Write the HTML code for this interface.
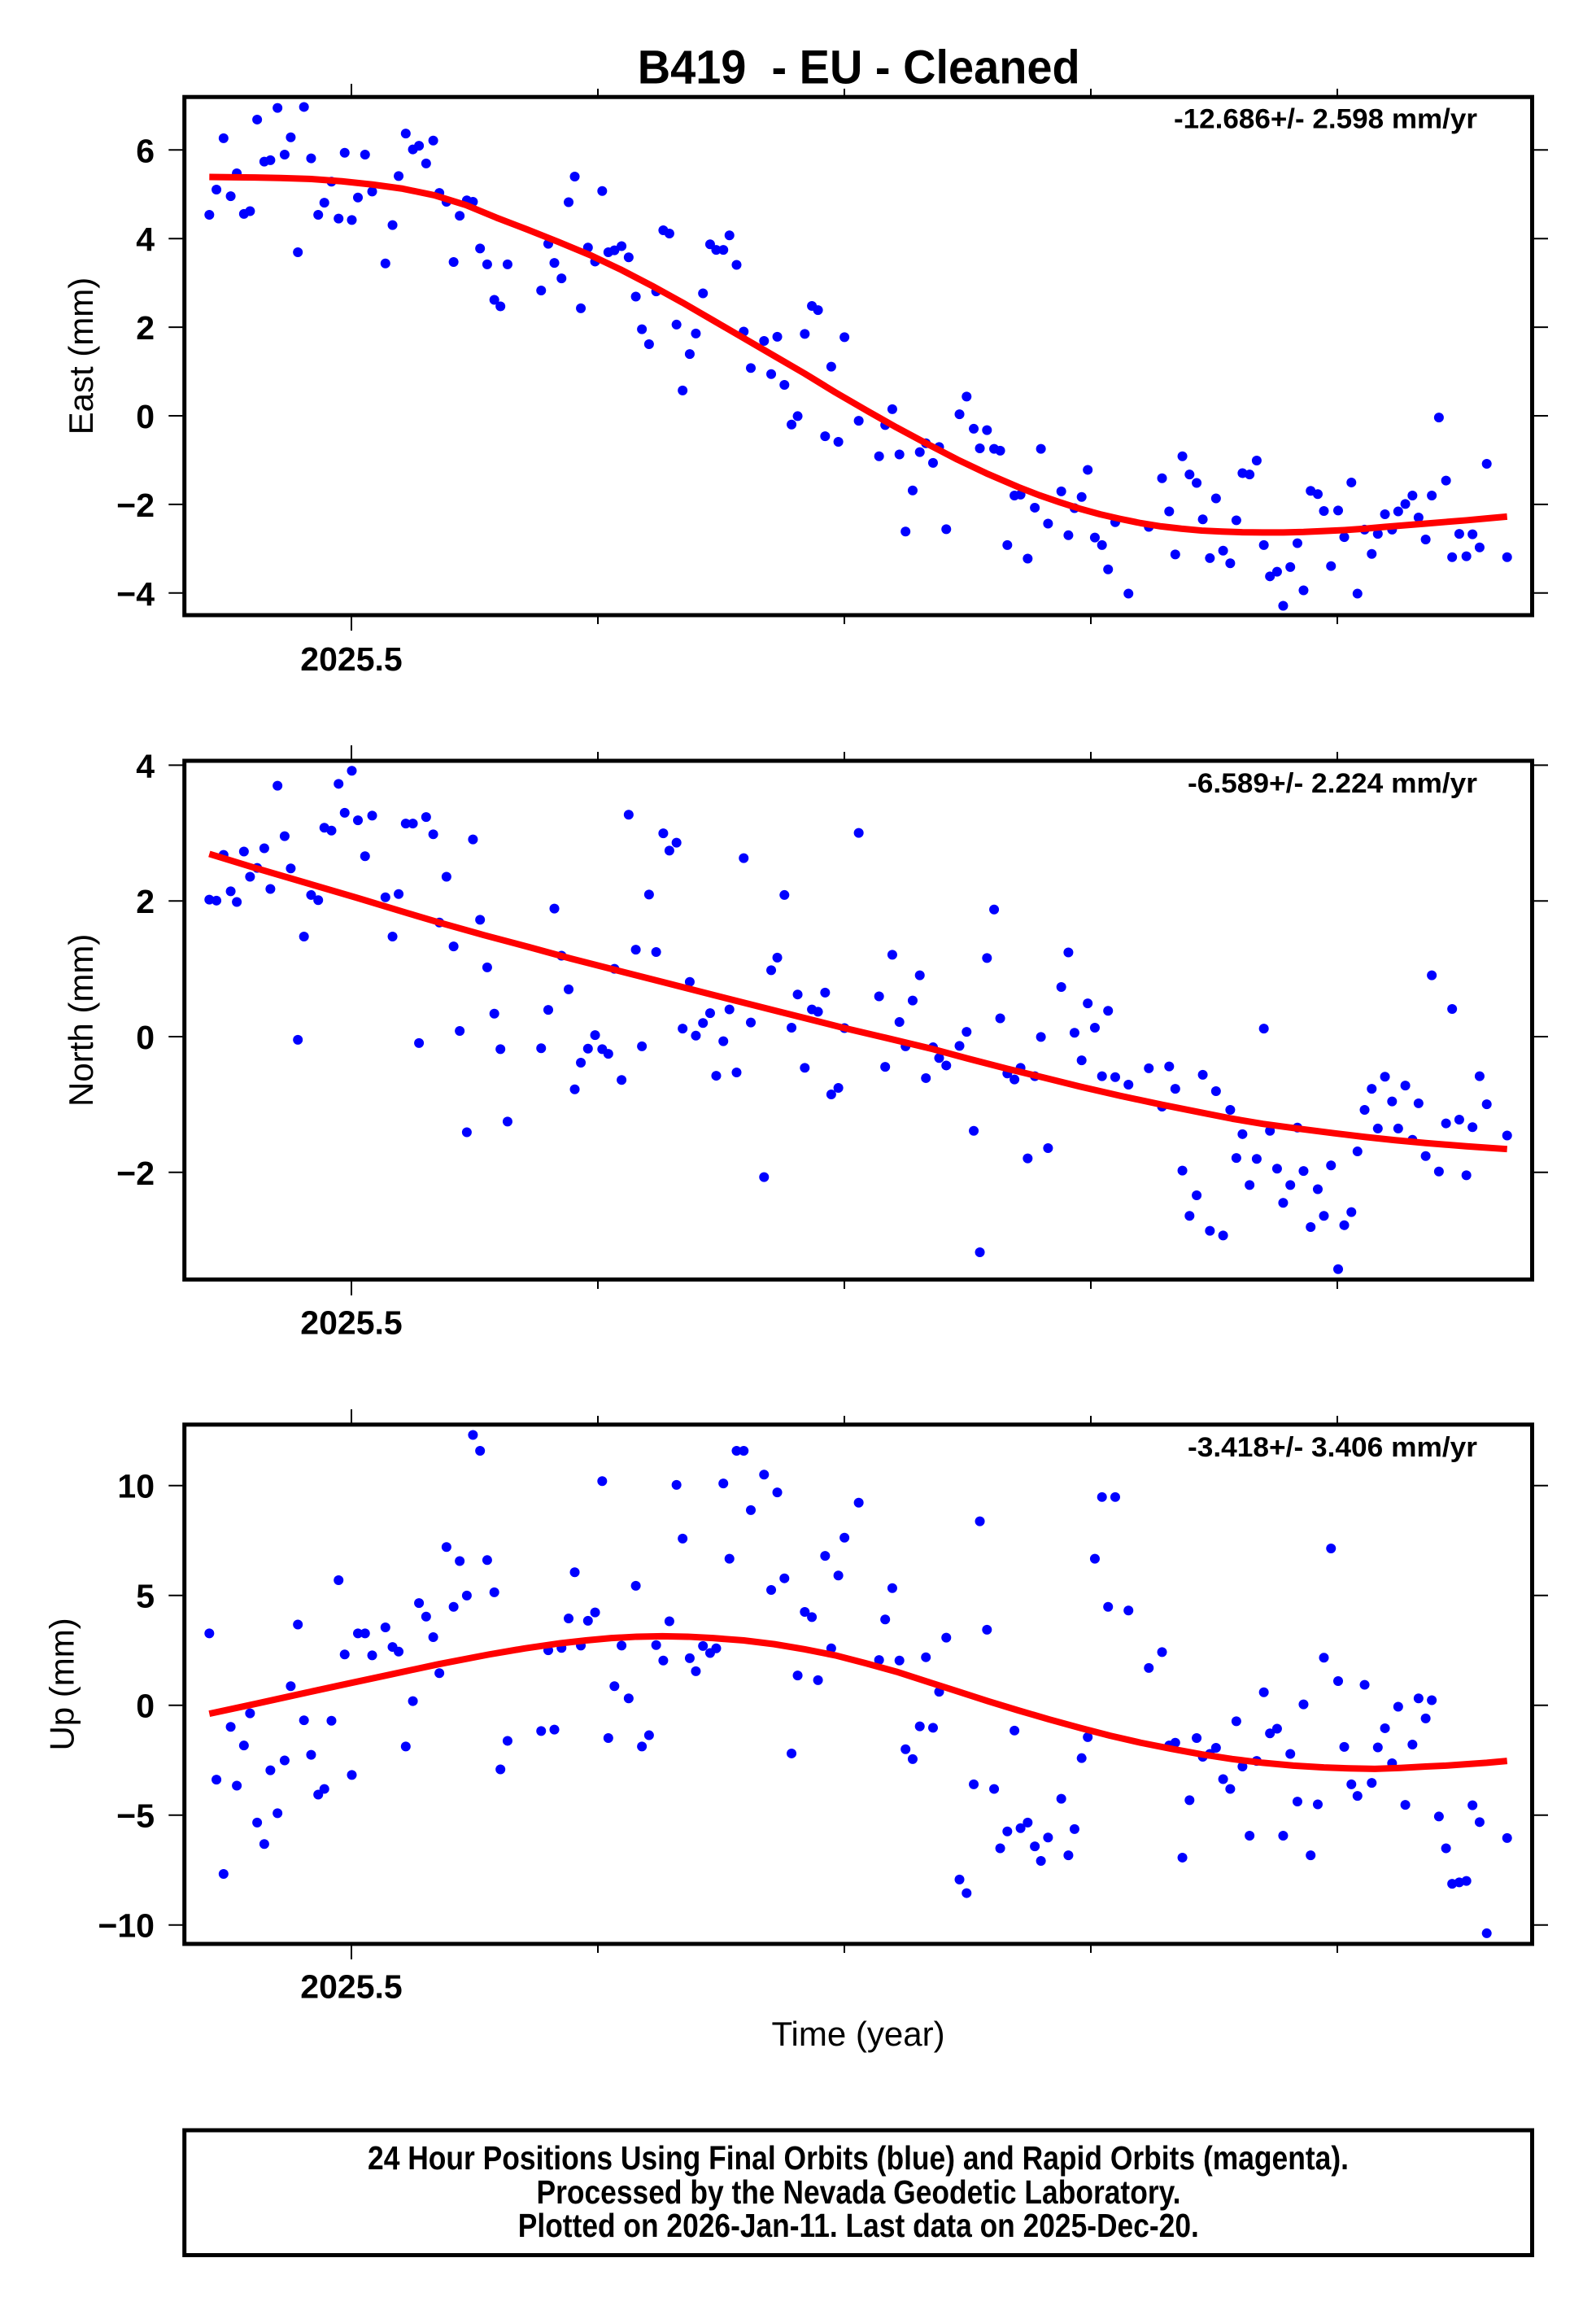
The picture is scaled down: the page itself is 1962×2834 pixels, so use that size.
<!DOCTYPE html>
<html>
<head>
<meta charset="utf-8">
<style>
html,body{margin:0;padding:0;background:#fff;}
svg{display:block;}
</style>
</head>
<body>
<svg width="1962" height="2834" viewBox="0 0 1962 2834" xmlns="http://www.w3.org/2000/svg" font-family="'Liberation Sans', Arial, sans-serif">
<rect width="1962" height="2834" fill="#fff"/>

<!-- Title -->
<text x="1055.7" y="102.3" text-anchor="middle" font-size="58" font-weight="bold" textLength="544" lengthAdjust="spacingAndGlyphs">B419&#160; - EU - Cleaned</text>

<!-- ===== Panel 1: East ===== -->
<g id="p1data" transform="translate(0.8,0) scale(1.2513,0.574)" fill="#0000ff">
<ellipse cx="205" cy="460" rx="4.8" ry="10.45"/><ellipse cx="212" cy="406" rx="4.8" ry="10.45"/><ellipse cx="219" cy="296" rx="4.8" ry="10.45"/><ellipse cx="226" cy="420" rx="4.8" ry="10.45"/><ellipse cx="232" cy="371" rx="4.8" ry="10.45"/><ellipse cx="239" cy="458" rx="4.8" ry="10.45"/><ellipse cx="245" cy="452" rx="4.8" ry="10.45"/><ellipse cx="252" cy="256" rx="4.8" ry="10.45"/><ellipse cx="259" cy="346" rx="4.8" ry="10.45"/><ellipse cx="265" cy="343" rx="4.8" ry="10.45"/>
<ellipse cx="272" cy="231" rx="4.8" ry="10.45"/><ellipse cx="279" cy="331" rx="4.8" ry="10.45"/><ellipse cx="285" cy="294" rx="4.8" ry="10.45"/><ellipse cx="292" cy="540" rx="4.8" ry="10.45"/><ellipse cx="298" cy="229" rx="4.8" ry="10.45"/><ellipse cx="305" cy="339" rx="4.8" ry="10.45"/><ellipse cx="312" cy="460" rx="4.8" ry="10.45"/><ellipse cx="318" cy="434" rx="4.8" ry="10.45"/><ellipse cx="325" cy="389" rx="4.8" ry="10.45"/><ellipse cx="332" cy="468" rx="4.8" ry="10.45"/>
<ellipse cx="338" cy="327" rx="4.8" ry="10.45"/><ellipse cx="345" cy="471" rx="4.8" ry="10.45"/><ellipse cx="351" cy="423" rx="4.8" ry="10.45"/><ellipse cx="358" cy="331" rx="4.8" ry="10.45"/><ellipse cx="365" cy="410" rx="4.8" ry="10.45"/><ellipse cx="378" cy="564" rx="4.8" ry="10.45"/><ellipse cx="385" cy="482" rx="4.8" ry="10.45"/><ellipse cx="391" cy="377" rx="4.8" ry="10.45"/><ellipse cx="398" cy="286" rx="4.8" ry="10.45"/><ellipse cx="405" cy="320" rx="4.8" ry="10.45"/>
<ellipse cx="411" cy="312" rx="4.8" ry="10.45"/><ellipse cx="418" cy="350" rx="4.8" ry="10.45"/><ellipse cx="425" cy="301" rx="4.8" ry="10.45"/><ellipse cx="431" cy="413" rx="4.8" ry="10.45"/><ellipse cx="438" cy="432" rx="4.8" ry="10.45"/><ellipse cx="445" cy="561" rx="4.8" ry="10.45"/><ellipse cx="451" cy="462" rx="4.8" ry="10.45"/><ellipse cx="458" cy="429" rx="4.8" ry="10.45"/><ellipse cx="464" cy="432" rx="4.8" ry="10.45"/><ellipse cx="471" cy="532" rx="4.8" ry="10.45"/>
<ellipse cx="478" cy="566" rx="4.8" ry="10.45"/><ellipse cx="485" cy="642" rx="4.8" ry="10.45"/><ellipse cx="491" cy="656" rx="4.8" ry="10.45"/><ellipse cx="498" cy="566" rx="4.8" ry="10.45"/><ellipse cx="531" cy="622" rx="4.8" ry="10.45"/><ellipse cx="538" cy="522" rx="4.8" ry="10.45"/><ellipse cx="544" cy="563" rx="4.8" ry="10.45"/><ellipse cx="551" cy="596" rx="4.8" ry="10.45"/><ellipse cx="558" cy="433" rx="4.8" ry="10.45"/><ellipse cx="564" cy="378" rx="4.8" ry="10.45"/>
<ellipse cx="570" cy="660" rx="4.8" ry="10.45"/><ellipse cx="577" cy="530" rx="4.8" ry="10.45"/><ellipse cx="584" cy="560" rx="4.8" ry="10.45"/><ellipse cx="591" cy="409" rx="4.8" ry="10.45"/><ellipse cx="597" cy="540" rx="4.8" ry="10.45"/><ellipse cx="603" cy="536" rx="4.8" ry="10.45"/><ellipse cx="610" cy="527" rx="4.8" ry="10.45"/><ellipse cx="617" cy="551" rx="4.8" ry="10.45"/><ellipse cx="624" cy="635" rx="4.8" ry="10.45"/><ellipse cx="630" cy="705" rx="4.8" ry="10.45"/>
<ellipse cx="637" cy="737" rx="4.8" ry="10.45"/><ellipse cx="644" cy="624" rx="4.8" ry="10.45"/><ellipse cx="651" cy="493" rx="4.8" ry="10.45"/><ellipse cx="657" cy="500" rx="4.8" ry="10.45"/><ellipse cx="664" cy="695" rx="4.8" ry="10.45"/><ellipse cx="670" cy="836" rx="4.8" ry="10.45"/><ellipse cx="677" cy="758" rx="4.8" ry="10.45"/><ellipse cx="683" cy="714" rx="4.8" ry="10.45"/><ellipse cx="690" cy="628" rx="4.8" ry="10.45"/><ellipse cx="697" cy="523" rx="4.8" ry="10.45"/>
<ellipse cx="703" cy="535" rx="4.8" ry="10.45"/><ellipse cx="710" cy="535" rx="4.8" ry="10.45"/><ellipse cx="716" cy="504" rx="4.8" ry="10.45"/><ellipse cx="723" cy="567" rx="4.8" ry="10.45"/><ellipse cx="730" cy="710" rx="4.8" ry="10.45"/><ellipse cx="737" cy="788" rx="4.8" ry="10.45"/><ellipse cx="750" cy="730" rx="4.8" ry="10.45"/><ellipse cx="757" cy="801" rx="4.8" ry="10.45"/><ellipse cx="763" cy="721" rx="4.8" ry="10.45"/><ellipse cx="770" cy="824" rx="4.8" ry="10.45"/>
<ellipse cx="777" cy="909" rx="4.8" ry="10.45"/><ellipse cx="783" cy="891" rx="4.8" ry="10.45"/><ellipse cx="790" cy="715" rx="4.8" ry="10.45"/><ellipse cx="797" cy="655" rx="4.8" ry="10.45"/><ellipse cx="803" cy="664" rx="4.8" ry="10.45"/><ellipse cx="810" cy="934" rx="4.8" ry="10.45"/><ellipse cx="816" cy="785" rx="4.8" ry="10.45"/><ellipse cx="823" cy="946" rx="4.8" ry="10.45"/><ellipse cx="829" cy="722" rx="4.8" ry="10.45"/><ellipse cx="843" cy="901" rx="4.8" ry="10.45"/>
<ellipse cx="863" cy="977" rx="4.8" ry="10.45"/><ellipse cx="869" cy="910" rx="4.8" ry="10.45"/><ellipse cx="876" cy="876" rx="4.8" ry="10.45"/><ellipse cx="883" cy="973" rx="4.8" ry="10.45"/><ellipse cx="889" cy="1138" rx="4.8" ry="10.45"/><ellipse cx="896" cy="1050" rx="4.8" ry="10.45"/><ellipse cx="903" cy="968" rx="4.8" ry="10.45"/><ellipse cx="909" cy="949" rx="4.8" ry="10.45"/><ellipse cx="916" cy="991" rx="4.8" ry="10.45"/><ellipse cx="922" cy="957" rx="4.8" ry="10.45"/>
<ellipse cx="929" cy="1133" rx="4.8" ry="10.45"/><ellipse cx="942" cy="887" rx="4.8" ry="10.45"/><ellipse cx="949" cy="849" rx="4.8" ry="10.45"/><ellipse cx="956" cy="918" rx="4.8" ry="10.45"/><ellipse cx="962" cy="960" rx="4.8" ry="10.45"/><ellipse cx="969" cy="921" rx="4.8" ry="10.45"/><ellipse cx="976" cy="961" rx="4.8" ry="10.45"/><ellipse cx="982" cy="965" rx="4.8" ry="10.45"/><ellipse cx="989" cy="1167" rx="4.8" ry="10.45"/><ellipse cx="996" cy="1061" rx="4.8" ry="10.45"/>
<ellipse cx="1002" cy="1059" rx="4.8" ry="10.45"/><ellipse cx="1009" cy="1196" rx="4.8" ry="10.45"/><ellipse cx="1016" cy="1087" rx="4.8" ry="10.45"/><ellipse cx="1022" cy="961" rx="4.8" ry="10.45"/><ellipse cx="1029" cy="1121" rx="4.8" ry="10.45"/><ellipse cx="1042" cy="1052" rx="4.8" ry="10.45"/><ellipse cx="1049" cy="1146" rx="4.8" ry="10.45"/><ellipse cx="1055" cy="1088" rx="4.8" ry="10.45"/><ellipse cx="1062" cy="1064" rx="4.8" ry="10.45"/><ellipse cx="1068" cy="1006" rx="4.8" ry="10.45"/>
<ellipse cx="1075" cy="1151" rx="4.8" ry="10.45"/><ellipse cx="1082" cy="1167" rx="4.8" ry="10.45"/><ellipse cx="1088" cy="1219" rx="4.8" ry="10.45"/><ellipse cx="1095" cy="1118" rx="4.8" ry="10.45"/><ellipse cx="1108" cy="1271" rx="4.8" ry="10.45"/><ellipse cx="1128" cy="1128" rx="4.8" ry="10.45"/><ellipse cx="1141" cy="1024" rx="4.8" ry="10.45"/><ellipse cx="1148" cy="1095" rx="4.8" ry="10.45"/><ellipse cx="1154" cy="1187" rx="4.8" ry="10.45"/><ellipse cx="1161" cy="977" rx="4.8" ry="10.45"/>
<ellipse cx="1168" cy="1016" rx="4.8" ry="10.45"/><ellipse cx="1175" cy="1034" rx="4.8" ry="10.45"/><ellipse cx="1181" cy="1112" rx="4.8" ry="10.45"/><ellipse cx="1188" cy="1195" rx="4.8" ry="10.45"/><ellipse cx="1194" cy="1067" rx="4.8" ry="10.45"/><ellipse cx="1201" cy="1179" rx="4.8" ry="10.45"/><ellipse cx="1208" cy="1206" rx="4.8" ry="10.45"/><ellipse cx="1214" cy="1114" rx="4.8" ry="10.45"/><ellipse cx="1220" cy="1013" rx="4.8" ry="10.45"/><ellipse cx="1227" cy="1016" rx="4.8" ry="10.45"/>
<ellipse cx="1234" cy="986" rx="4.8" ry="10.45"/><ellipse cx="1241" cy="1167" rx="4.8" ry="10.45"/><ellipse cx="1247" cy="1234" rx="4.8" ry="10.45"/><ellipse cx="1254" cy="1224" rx="4.8" ry="10.45"/><ellipse cx="1260" cy="1297" rx="4.8" ry="10.45"/><ellipse cx="1267" cy="1214" rx="4.8" ry="10.45"/><ellipse cx="1274" cy="1163" rx="4.8" ry="10.45"/><ellipse cx="1280" cy="1264" rx="4.8" ry="10.45"/><ellipse cx="1287" cy="1051" rx="4.8" ry="10.45"/><ellipse cx="1294" cy="1058" rx="4.8" ry="10.45"/>
<ellipse cx="1300" cy="1094" rx="4.8" ry="10.45"/><ellipse cx="1307" cy="1212" rx="4.8" ry="10.45"/><ellipse cx="1314" cy="1093" rx="4.8" ry="10.45"/><ellipse cx="1320" cy="1150" rx="4.8" ry="10.45"/><ellipse cx="1327" cy="1033" rx="4.8" ry="10.45"/><ellipse cx="1333" cy="1271" rx="4.8" ry="10.45"/><ellipse cx="1340" cy="1134" rx="4.8" ry="10.45"/><ellipse cx="1347" cy="1186" rx="4.8" ry="10.45"/><ellipse cx="1353" cy="1143" rx="4.8" ry="10.45"/><ellipse cx="1360" cy="1101" rx="4.8" ry="10.45"/>
<ellipse cx="1367" cy="1134" rx="4.8" ry="10.45"/><ellipse cx="1373" cy="1095" rx="4.8" ry="10.45"/><ellipse cx="1380" cy="1079" rx="4.8" ry="10.45"/><ellipse cx="1387" cy="1061" rx="4.8" ry="10.45"/><ellipse cx="1393" cy="1108" rx="4.8" ry="10.45"/><ellipse cx="1400" cy="1155" rx="4.8" ry="10.45"/><ellipse cx="1406" cy="1061" rx="4.8" ry="10.45"/><ellipse cx="1413" cy="894" rx="4.8" ry="10.45"/><ellipse cx="1420" cy="1029" rx="4.8" ry="10.45"/><ellipse cx="1426" cy="1193" rx="4.8" ry="10.45"/>
<ellipse cx="1433" cy="1143" rx="4.8" ry="10.45"/><ellipse cx="1440" cy="1191" rx="4.8" ry="10.45"/><ellipse cx="1446" cy="1144" rx="4.8" ry="10.45"/><ellipse cx="1453" cy="1172" rx="4.8" ry="10.45"/><ellipse cx="1460" cy="993" rx="4.8" ry="10.45"/><ellipse cx="1480" cy="1193" rx="4.8" ry="10.45"/>
<polyline fill="none" stroke="#ff0000" stroke-width="8" stroke-linejoin="round" vector-effect="non-scaling-stroke" points="205,379 230,379.5 250,380 275,381 303,383 335,388 365,395 395,404 426,418 457,439 487,466 517,491 548,518 579,546 610,578 640,612 670,648 700,686 730,724 760,762 790,800 820,840 850,878 880,915 910,950 940,984 970,1015 1000,1043 1020,1060 1040,1075 1060,1089 1080,1101 1100,1111 1120,1120 1140,1127 1160,1132 1180,1136 1200,1138 1220,1139.5 1240,1140 1260,1140 1280,1139 1300,1137 1320,1135 1340,1132 1360,1128 1380,1124.5 1400,1121 1420,1117.5 1440,1114 1460,1110 1480,1106"/>
</g>

<rect x="226.7" y="119.2" width="1656.8" height="636.8" fill="none" stroke="#000" stroke-width="5"/>
<path stroke="#000" stroke-width="2" fill="none" d="
M207.3,184.3H227 M207.3,293.2H227 M207.3,402.1H227 M207.3,511H227 M207.3,619.9H227 M207.3,728.8H227
M1883,184.3H1903 M1883,293.2H1903 M1883,402.1H1903 M1883,511H1903 M1883,619.9H1903 M1883,728.8H1903
M432,103V120 M735,109V120 M1038,109V120 M1341,109V120 M1644,109V120
M432,755V775 M735,755V767 M1038,755V767 M1341,755V767 M1644,755V767"/>
<g font-size="41" font-weight="bold" text-anchor="end">
<text x="190" y="199.3">6</text>
<text x="190" y="308.2">4</text>
<text x="190" y="417.1">2</text>
<text x="190" y="526">0</text>
<text x="190" y="634.9">−2</text>
<text x="190" y="743.8">−4</text>
</g>
<text x="432" y="824" font-size="41" font-weight="bold" text-anchor="middle">2025.5</text>
<text x="1816" y="157.5" font-size="34" font-weight="bold" text-anchor="end" textLength="373" lengthAdjust="spacingAndGlyphs">-12.686+/- 2.598 mm/yr</text>
<text transform="translate(114,437.6) rotate(-90)" text-anchor="middle" font-size="42">East (mm)</text>

<!-- ===== Panel 2: North ===== -->
<g id="p2data" transform="translate(0.8,860) scale(1.2513,0.574)" fill="#0000ff">
<ellipse cx="205" cy="428" rx="4.8" ry="10.45"/><ellipse cx="212" cy="430" rx="4.8" ry="10.45"/><ellipse cx="219" cy="332" rx="4.8" ry="10.45"/><ellipse cx="226" cy="410" rx="4.8" ry="10.45"/><ellipse cx="232" cy="433" rx="4.8" ry="10.45"/><ellipse cx="239" cy="325" rx="4.8" ry="10.45"/><ellipse cx="245" cy="379" rx="4.8" ry="10.45"/><ellipse cx="252" cy="360" rx="4.8" ry="10.45"/><ellipse cx="259" cy="318" rx="4.8" ry="10.45"/><ellipse cx="265" cy="405" rx="4.8" ry="10.45"/>
<ellipse cx="272" cy="184" rx="4.8" ry="10.45"/><ellipse cx="279" cy="292" rx="4.8" ry="10.45"/><ellipse cx="285" cy="361" rx="4.8" ry="10.45"/><ellipse cx="292" cy="728" rx="4.8" ry="10.45"/><ellipse cx="298" cy="507" rx="4.8" ry="10.45"/><ellipse cx="305" cy="418" rx="4.8" ry="10.45"/><ellipse cx="312" cy="429" rx="4.8" ry="10.45"/><ellipse cx="318" cy="274" rx="4.8" ry="10.45"/><ellipse cx="325" cy="280" rx="4.8" ry="10.45"/><ellipse cx="332" cy="180" rx="4.8" ry="10.45"/>
<ellipse cx="338" cy="242" rx="4.8" ry="10.45"/><ellipse cx="345" cy="152" rx="4.8" ry="10.45"/><ellipse cx="351" cy="258" rx="4.8" ry="10.45"/><ellipse cx="358" cy="335" rx="4.8" ry="10.45"/><ellipse cx="365" cy="248" rx="4.8" ry="10.45"/><ellipse cx="378" cy="423" rx="4.8" ry="10.45"/><ellipse cx="385" cy="507" rx="4.8" ry="10.45"/><ellipse cx="391" cy="416" rx="4.8" ry="10.45"/><ellipse cx="398" cy="265" rx="4.8" ry="10.45"/><ellipse cx="405" cy="265" rx="4.8" ry="10.45"/>
<ellipse cx="411" cy="735" rx="4.8" ry="10.45"/><ellipse cx="418" cy="251" rx="4.8" ry="10.45"/><ellipse cx="425" cy="288" rx="4.8" ry="10.45"/><ellipse cx="431" cy="477" rx="4.8" ry="10.45"/><ellipse cx="438" cy="379" rx="4.8" ry="10.45"/><ellipse cx="445" cy="528" rx="4.8" ry="10.45"/><ellipse cx="451" cy="709" rx="4.8" ry="10.45"/><ellipse cx="458" cy="926" rx="4.8" ry="10.45"/><ellipse cx="464" cy="299" rx="4.8" ry="10.45"/><ellipse cx="471" cy="471" rx="4.8" ry="10.45"/>
<ellipse cx="478" cy="573" rx="4.8" ry="10.45"/><ellipse cx="485" cy="672" rx="4.8" ry="10.45"/><ellipse cx="491" cy="748" rx="4.8" ry="10.45"/><ellipse cx="498" cy="903" rx="4.8" ry="10.45"/><ellipse cx="531" cy="746" rx="4.8" ry="10.45"/><ellipse cx="538" cy="664" rx="4.8" ry="10.45"/><ellipse cx="544" cy="447" rx="4.8" ry="10.45"/><ellipse cx="551" cy="548" rx="4.8" ry="10.45"/><ellipse cx="558" cy="620" rx="4.8" ry="10.45"/><ellipse cx="564" cy="834" rx="4.8" ry="10.45"/>
<ellipse cx="570" cy="777" rx="4.8" ry="10.45"/><ellipse cx="577" cy="747" rx="4.8" ry="10.45"/><ellipse cx="584" cy="718" rx="4.8" ry="10.45"/><ellipse cx="591" cy="748" rx="4.8" ry="10.45"/><ellipse cx="597" cy="758" rx="4.8" ry="10.45"/><ellipse cx="603" cy="576" rx="4.8" ry="10.45"/><ellipse cx="610" cy="814" rx="4.8" ry="10.45"/><ellipse cx="617" cy="246" rx="4.8" ry="10.45"/><ellipse cx="624" cy="535" rx="4.8" ry="10.45"/><ellipse cx="630" cy="742" rx="4.8" ry="10.45"/>
<ellipse cx="637" cy="417" rx="4.8" ry="10.45"/><ellipse cx="644" cy="540" rx="4.8" ry="10.45"/><ellipse cx="651" cy="286" rx="4.8" ry="10.45"/><ellipse cx="657" cy="323" rx="4.8" ry="10.45"/><ellipse cx="664" cy="306" rx="4.8" ry="10.45"/><ellipse cx="670" cy="704" rx="4.8" ry="10.45"/><ellipse cx="677" cy="604" rx="4.8" ry="10.45"/><ellipse cx="683" cy="719" rx="4.8" ry="10.45"/><ellipse cx="690" cy="692" rx="4.8" ry="10.45"/><ellipse cx="697" cy="671" rx="4.8" ry="10.45"/>
<ellipse cx="703" cy="805" rx="4.8" ry="10.45"/><ellipse cx="710" cy="731" rx="4.8" ry="10.45"/><ellipse cx="716" cy="663" rx="4.8" ry="10.45"/><ellipse cx="723" cy="798" rx="4.8" ry="10.45"/><ellipse cx="730" cy="339" rx="4.8" ry="10.45"/><ellipse cx="737" cy="691" rx="4.8" ry="10.45"/><ellipse cx="750" cy="1022" rx="4.8" ry="10.45"/><ellipse cx="757" cy="579" rx="4.8" ry="10.45"/><ellipse cx="763" cy="552" rx="4.8" ry="10.45"/><ellipse cx="770" cy="418" rx="4.8" ry="10.45"/>
<ellipse cx="777" cy="702" rx="4.8" ry="10.45"/><ellipse cx="783" cy="631" rx="4.8" ry="10.45"/><ellipse cx="790" cy="788" rx="4.8" ry="10.45"/><ellipse cx="797" cy="663" rx="4.8" ry="10.45"/><ellipse cx="803" cy="668" rx="4.8" ry="10.45"/><ellipse cx="810" cy="627" rx="4.8" ry="10.45"/><ellipse cx="816" cy="845" rx="4.8" ry="10.45"/><ellipse cx="823" cy="831" rx="4.8" ry="10.45"/><ellipse cx="829" cy="703" rx="4.8" ry="10.45"/><ellipse cx="843" cy="285" rx="4.8" ry="10.45"/>
<ellipse cx="863" cy="635" rx="4.8" ry="10.45"/><ellipse cx="869" cy="786" rx="4.8" ry="10.45"/><ellipse cx="876" cy="546" rx="4.8" ry="10.45"/><ellipse cx="883" cy="690" rx="4.8" ry="10.45"/><ellipse cx="889" cy="742" rx="4.8" ry="10.45"/><ellipse cx="896" cy="644" rx="4.8" ry="10.45"/><ellipse cx="903" cy="590" rx="4.8" ry="10.45"/><ellipse cx="909" cy="810" rx="4.8" ry="10.45"/><ellipse cx="916" cy="744" rx="4.8" ry="10.45"/><ellipse cx="922" cy="767" rx="4.8" ry="10.45"/>
<ellipse cx="929" cy="783" rx="4.8" ry="10.45"/><ellipse cx="942" cy="741" rx="4.8" ry="10.45"/><ellipse cx="949" cy="711" rx="4.8" ry="10.45"/><ellipse cx="956" cy="923" rx="4.8" ry="10.45"/><ellipse cx="962" cy="1183" rx="4.8" ry="10.45"/><ellipse cx="969" cy="553" rx="4.8" ry="10.45"/><ellipse cx="976" cy="449" rx="4.8" ry="10.45"/><ellipse cx="982" cy="682" rx="4.8" ry="10.45"/><ellipse cx="989" cy="800" rx="4.8" ry="10.45"/><ellipse cx="996" cy="813" rx="4.8" ry="10.45"/>
<ellipse cx="1002" cy="788" rx="4.8" ry="10.45"/><ellipse cx="1009" cy="982" rx="4.8" ry="10.45"/><ellipse cx="1016" cy="806" rx="4.8" ry="10.45"/><ellipse cx="1022" cy="722" rx="4.8" ry="10.45"/><ellipse cx="1029" cy="960" rx="4.8" ry="10.45"/><ellipse cx="1042" cy="615" rx="4.8" ry="10.45"/><ellipse cx="1049" cy="541" rx="4.8" ry="10.45"/><ellipse cx="1055" cy="713" rx="4.8" ry="10.45"/><ellipse cx="1062" cy="772" rx="4.8" ry="10.45"/><ellipse cx="1068" cy="650" rx="4.8" ry="10.45"/>
<ellipse cx="1075" cy="702" rx="4.8" ry="10.45"/><ellipse cx="1082" cy="806" rx="4.8" ry="10.45"/><ellipse cx="1088" cy="666" rx="4.8" ry="10.45"/><ellipse cx="1095" cy="808" rx="4.8" ry="10.45"/><ellipse cx="1108" cy="824" rx="4.8" ry="10.45"/><ellipse cx="1128" cy="789" rx="4.8" ry="10.45"/><ellipse cx="1141" cy="871" rx="4.8" ry="10.45"/><ellipse cx="1148" cy="785" rx="4.8" ry="10.45"/><ellipse cx="1154" cy="833" rx="4.8" ry="10.45"/><ellipse cx="1161" cy="1008" rx="4.8" ry="10.45"/>
<ellipse cx="1168" cy="1105" rx="4.8" ry="10.45"/><ellipse cx="1175" cy="1061" rx="4.8" ry="10.45"/><ellipse cx="1181" cy="803" rx="4.8" ry="10.45"/><ellipse cx="1188" cy="1137" rx="4.8" ry="10.45"/><ellipse cx="1194" cy="838" rx="4.8" ry="10.45"/><ellipse cx="1201" cy="1147" rx="4.8" ry="10.45"/><ellipse cx="1208" cy="878" rx="4.8" ry="10.45"/><ellipse cx="1214" cy="981" rx="4.8" ry="10.45"/><ellipse cx="1220" cy="930" rx="4.8" ry="10.45"/><ellipse cx="1227" cy="1039" rx="4.8" ry="10.45"/>
<ellipse cx="1234" cy="983" rx="4.8" ry="10.45"/><ellipse cx="1241" cy="704" rx="4.8" ry="10.45"/><ellipse cx="1247" cy="923" rx="4.8" ry="10.45"/><ellipse cx="1254" cy="1004" rx="4.8" ry="10.45"/><ellipse cx="1260" cy="1077" rx="4.8" ry="10.45"/><ellipse cx="1267" cy="1039" rx="4.8" ry="10.45"/><ellipse cx="1274" cy="916" rx="4.8" ry="10.45"/><ellipse cx="1280" cy="1009" rx="4.8" ry="10.45"/><ellipse cx="1287" cy="1129" rx="4.8" ry="10.45"/><ellipse cx="1294" cy="1048" rx="4.8" ry="10.45"/>
<ellipse cx="1300" cy="1105" rx="4.8" ry="10.45"/><ellipse cx="1307" cy="997" rx="4.8" ry="10.45"/><ellipse cx="1314" cy="1219" rx="4.8" ry="10.45"/><ellipse cx="1320" cy="1125" rx="4.8" ry="10.45"/><ellipse cx="1327" cy="1097" rx="4.8" ry="10.45"/><ellipse cx="1333" cy="967" rx="4.8" ry="10.45"/><ellipse cx="1340" cy="878" rx="4.8" ry="10.45"/><ellipse cx="1347" cy="833" rx="4.8" ry="10.45"/><ellipse cx="1353" cy="918" rx="4.8" ry="10.45"/><ellipse cx="1360" cy="807" rx="4.8" ry="10.45"/>
<ellipse cx="1367" cy="860" rx="4.8" ry="10.45"/><ellipse cx="1373" cy="918" rx="4.8" ry="10.45"/><ellipse cx="1380" cy="826" rx="4.8" ry="10.45"/><ellipse cx="1387" cy="942" rx="4.8" ry="10.45"/><ellipse cx="1393" cy="864" rx="4.8" ry="10.45"/><ellipse cx="1400" cy="977" rx="4.8" ry="10.45"/><ellipse cx="1406" cy="590" rx="4.8" ry="10.45"/><ellipse cx="1413" cy="1010" rx="4.8" ry="10.45"/><ellipse cx="1420" cy="907" rx="4.8" ry="10.45"/><ellipse cx="1426" cy="662" rx="4.8" ry="10.45"/>
<ellipse cx="1433" cy="899" rx="4.8" ry="10.45"/><ellipse cx="1440" cy="1018" rx="4.8" ry="10.45"/><ellipse cx="1446" cy="915" rx="4.8" ry="10.45"/><ellipse cx="1453" cy="806" rx="4.8" ry="10.45"/><ellipse cx="1460" cy="866" rx="4.8" ry="10.45"/><ellipse cx="1480" cy="933" rx="4.8" ry="10.45"/>
<polyline fill="none" stroke="#ff0000" stroke-width="8" stroke-linejoin="round" vector-effect="non-scaling-stroke" points="205,330 250,360 300,392 350,424 400,457 431,477 475,504 520,530 560,554 603,578 650,604 700,632 760,665 829,703 870,724 916,748 950,768 989,790 1025,809 1060,828 1100,848 1141,867 1180,884 1210,897 1240,908 1274,918 1310,928 1340,936 1370,943 1400,949 1440,956 1480,962"/>
</g>

<rect x="226.7" y="935" width="1656.8" height="637.5" fill="none" stroke="#000" stroke-width="5"/>
<path stroke="#000" stroke-width="2" fill="none" d="
M207.3,940.4H227 M207.3,1107.2H227 M207.3,1274H227 M207.3,1440.8H227
M1883,940.4H1903 M1883,1107.2H1903 M1883,1274H1903 M1883,1440.8H1903
M432,916V936 M735,924V936 M1038,924V936 M1341,924V936 M1644,924V936
M432,1572V1592 M735,1572V1584 M1038,1572V1584 M1341,1572V1584 M1644,1572V1584"/>
<g font-size="41" font-weight="bold" text-anchor="end">
<text x="190" y="955.4">4</text>
<text x="190" y="1122.2">2</text>
<text x="190" y="1289">0</text>
<text x="190" y="1455.8">−2</text>
</g>
<text x="432" y="1639.5" font-size="41" font-weight="bold" text-anchor="middle">2025.5</text>
<text x="1816" y="974" font-size="34" font-weight="bold" text-anchor="end" textLength="356" lengthAdjust="spacingAndGlyphs">-6.589+/- 2.224 mm/yr</text>
<text transform="translate(114,1253.8) rotate(-90)" text-anchor="middle" font-size="42">North (mm)</text>

<!-- ===== Panel 3: Up ===== -->
<g id="p3data" transform="translate(0.8,1690) scale(1.2513,0.574)" fill="#0000ff">
<ellipse cx="205" cy="553" rx="4.8" ry="10.45"/><ellipse cx="212" cy="866" rx="4.8" ry="10.45"/><ellipse cx="219" cy="1068" rx="4.8" ry="10.45"/><ellipse cx="226" cy="753" rx="4.8" ry="10.45"/><ellipse cx="232" cy="879" rx="4.8" ry="10.45"/><ellipse cx="239" cy="793" rx="4.8" ry="10.45"/><ellipse cx="245" cy="724" rx="4.8" ry="10.45"/><ellipse cx="252" cy="958" rx="4.8" ry="10.45"/><ellipse cx="259" cy="1004" rx="4.8" ry="10.45"/><ellipse cx="265" cy="846" rx="4.8" ry="10.45"/>
<ellipse cx="272" cy="938" rx="4.8" ry="10.45"/><ellipse cx="279" cy="825" rx="4.8" ry="10.45"/><ellipse cx="285" cy="666" rx="4.8" ry="10.45"/><ellipse cx="292" cy="534" rx="4.8" ry="10.45"/><ellipse cx="298" cy="739" rx="4.8" ry="10.45"/><ellipse cx="305" cy="813" rx="4.8" ry="10.45"/><ellipse cx="312" cy="898" rx="4.8" ry="10.45"/><ellipse cx="318" cy="886" rx="4.8" ry="10.45"/><ellipse cx="325" cy="740" rx="4.8" ry="10.45"/><ellipse cx="332" cy="439" rx="4.8" ry="10.45"/>
<ellipse cx="338" cy="598" rx="4.8" ry="10.45"/><ellipse cx="345" cy="856" rx="4.8" ry="10.45"/><ellipse cx="351" cy="553" rx="4.8" ry="10.45"/><ellipse cx="358" cy="553" rx="4.8" ry="10.45"/><ellipse cx="365" cy="600" rx="4.8" ry="10.45"/><ellipse cx="378" cy="540" rx="4.8" ry="10.45"/><ellipse cx="385" cy="582" rx="4.8" ry="10.45"/><ellipse cx="391" cy="592" rx="4.8" ry="10.45"/><ellipse cx="398" cy="795" rx="4.8" ry="10.45"/><ellipse cx="405" cy="698" rx="4.8" ry="10.45"/>
<ellipse cx="411" cy="488" rx="4.8" ry="10.45"/><ellipse cx="418" cy="517" rx="4.8" ry="10.45"/><ellipse cx="425" cy="561" rx="4.8" ry="10.45"/><ellipse cx="431" cy="638" rx="4.8" ry="10.45"/><ellipse cx="438" cy="368" rx="4.8" ry="10.45"/><ellipse cx="445" cy="496" rx="4.8" ry="10.45"/><ellipse cx="451" cy="398" rx="4.8" ry="10.45"/><ellipse cx="458" cy="472" rx="4.8" ry="10.45"/><ellipse cx="464" cy="128" rx="4.8" ry="10.45"/><ellipse cx="471" cy="162" rx="4.8" ry="10.45"/>
<ellipse cx="478" cy="396" rx="4.8" ry="10.45"/><ellipse cx="485" cy="465" rx="4.8" ry="10.45"/><ellipse cx="491" cy="844" rx="4.8" ry="10.45"/><ellipse cx="498" cy="783" rx="4.8" ry="10.45"/><ellipse cx="531" cy="762" rx="4.8" ry="10.45"/><ellipse cx="538" cy="589" rx="4.8" ry="10.45"/><ellipse cx="544" cy="759" rx="4.8" ry="10.45"/><ellipse cx="551" cy="584" rx="4.8" ry="10.45"/><ellipse cx="558" cy="521" rx="4.8" ry="10.45"/><ellipse cx="564" cy="422" rx="4.8" ry="10.45"/>
<ellipse cx="570" cy="579" rx="4.8" ry="10.45"/><ellipse cx="577" cy="526" rx="4.8" ry="10.45"/><ellipse cx="584" cy="508" rx="4.8" ry="10.45"/><ellipse cx="591" cy="227" rx="4.8" ry="10.45"/><ellipse cx="597" cy="777" rx="4.8" ry="10.45"/><ellipse cx="603" cy="666" rx="4.8" ry="10.45"/><ellipse cx="610" cy="579" rx="4.8" ry="10.45"/><ellipse cx="617" cy="692" rx="4.8" ry="10.45"/><ellipse cx="624" cy="451" rx="4.8" ry="10.45"/><ellipse cx="630" cy="795" rx="4.8" ry="10.45"/>
<ellipse cx="637" cy="771" rx="4.8" ry="10.45"/><ellipse cx="644" cy="578" rx="4.8" ry="10.45"/><ellipse cx="651" cy="611" rx="4.8" ry="10.45"/><ellipse cx="657" cy="527" rx="4.8" ry="10.45"/><ellipse cx="664" cy="235" rx="4.8" ry="10.45"/><ellipse cx="670" cy="350" rx="4.8" ry="10.45"/><ellipse cx="677" cy="606" rx="4.8" ry="10.45"/><ellipse cx="683" cy="634" rx="4.8" ry="10.45"/><ellipse cx="690" cy="580" rx="4.8" ry="10.45"/><ellipse cx="697" cy="595" rx="4.8" ry="10.45"/>
<ellipse cx="703" cy="585" rx="4.8" ry="10.45"/><ellipse cx="710" cy="232" rx="4.8" ry="10.45"/><ellipse cx="716" cy="393" rx="4.8" ry="10.45"/><ellipse cx="723" cy="162" rx="4.8" ry="10.45"/><ellipse cx="730" cy="162" rx="4.8" ry="10.45"/><ellipse cx="737" cy="289" rx="4.8" ry="10.45"/><ellipse cx="750" cy="213" rx="4.8" ry="10.45"/><ellipse cx="757" cy="460" rx="4.8" ry="10.45"/><ellipse cx="763" cy="251" rx="4.8" ry="10.45"/><ellipse cx="770" cy="435" rx="4.8" ry="10.45"/>
<ellipse cx="777" cy="810" rx="4.8" ry="10.45"/><ellipse cx="783" cy="643" rx="4.8" ry="10.45"/><ellipse cx="790" cy="507" rx="4.8" ry="10.45"/><ellipse cx="797" cy="518" rx="4.8" ry="10.45"/><ellipse cx="803" cy="653" rx="4.8" ry="10.45"/><ellipse cx="810" cy="387" rx="4.8" ry="10.45"/><ellipse cx="816" cy="585" rx="4.8" ry="10.45"/><ellipse cx="823" cy="429" rx="4.8" ry="10.45"/><ellipse cx="829" cy="348" rx="4.8" ry="10.45"/><ellipse cx="843" cy="273" rx="4.8" ry="10.45"/>
<ellipse cx="863" cy="610" rx="4.8" ry="10.45"/><ellipse cx="869" cy="523" rx="4.8" ry="10.45"/><ellipse cx="876" cy="456" rx="4.8" ry="10.45"/><ellipse cx="883" cy="611" rx="4.8" ry="10.45"/><ellipse cx="889" cy="801" rx="4.8" ry="10.45"/><ellipse cx="896" cy="822" rx="4.8" ry="10.45"/><ellipse cx="903" cy="752" rx="4.8" ry="10.45"/><ellipse cx="909" cy="604" rx="4.8" ry="10.45"/><ellipse cx="916" cy="755" rx="4.8" ry="10.45"/><ellipse cx="922" cy="678" rx="4.8" ry="10.45"/>
<ellipse cx="929" cy="562" rx="4.8" ry="10.45"/><ellipse cx="942" cy="1080" rx="4.8" ry="10.45"/><ellipse cx="949" cy="1109" rx="4.8" ry="10.45"/><ellipse cx="956" cy="876" rx="4.8" ry="10.45"/><ellipse cx="962" cy="313" rx="4.8" ry="10.45"/><ellipse cx="969" cy="545" rx="4.8" ry="10.45"/><ellipse cx="976" cy="886" rx="4.8" ry="10.45"/><ellipse cx="982" cy="1013" rx="4.8" ry="10.45"/><ellipse cx="989" cy="977" rx="4.8" ry="10.45"/><ellipse cx="996" cy="761" rx="4.8" ry="10.45"/>
<ellipse cx="1002" cy="970" rx="4.8" ry="10.45"/><ellipse cx="1009" cy="958" rx="4.8" ry="10.45"/><ellipse cx="1016" cy="1009" rx="4.8" ry="10.45"/><ellipse cx="1022" cy="1040" rx="4.8" ry="10.45"/><ellipse cx="1029" cy="990" rx="4.8" ry="10.45"/><ellipse cx="1042" cy="907" rx="4.8" ry="10.45"/><ellipse cx="1049" cy="1028" rx="4.8" ry="10.45"/><ellipse cx="1055" cy="972" rx="4.8" ry="10.45"/><ellipse cx="1062" cy="820" rx="4.8" ry="10.45"/><ellipse cx="1068" cy="775" rx="4.8" ry="10.45"/>
<ellipse cx="1075" cy="393" rx="4.8" ry="10.45"/><ellipse cx="1082" cy="261" rx="4.8" ry="10.45"/><ellipse cx="1088" cy="496" rx="4.8" ry="10.45"/><ellipse cx="1095" cy="261" rx="4.8" ry="10.45"/><ellipse cx="1108" cy="504" rx="4.8" ry="10.45"/><ellipse cx="1128" cy="627" rx="4.8" ry="10.45"/><ellipse cx="1141" cy="593" rx="4.8" ry="10.45"/><ellipse cx="1148" cy="793" rx="4.8" ry="10.45"/><ellipse cx="1154" cy="787" rx="4.8" ry="10.45"/><ellipse cx="1161" cy="1033" rx="4.8" ry="10.45"/>
<ellipse cx="1168" cy="910" rx="4.8" ry="10.45"/><ellipse cx="1175" cy="777" rx="4.8" ry="10.45"/><ellipse cx="1181" cy="817" rx="4.8" ry="10.45"/><ellipse cx="1188" cy="811" rx="4.8" ry="10.45"/><ellipse cx="1194" cy="798" rx="4.8" ry="10.45"/><ellipse cx="1201" cy="865" rx="4.8" ry="10.45"/><ellipse cx="1208" cy="886" rx="4.8" ry="10.45"/><ellipse cx="1214" cy="741" rx="4.8" ry="10.45"/><ellipse cx="1220" cy="838" rx="4.8" ry="10.45"/><ellipse cx="1227" cy="986" rx="4.8" ry="10.45"/>
<ellipse cx="1234" cy="826" rx="4.8" ry="10.45"/><ellipse cx="1241" cy="679" rx="4.8" ry="10.45"/><ellipse cx="1247" cy="767" rx="4.8" ry="10.45"/><ellipse cx="1254" cy="757" rx="4.8" ry="10.45"/><ellipse cx="1260" cy="986" rx="4.8" ry="10.45"/><ellipse cx="1267" cy="811" rx="4.8" ry="10.45"/><ellipse cx="1274" cy="913" rx="4.8" ry="10.45"/><ellipse cx="1280" cy="705" rx="4.8" ry="10.45"/><ellipse cx="1287" cy="1028" rx="4.8" ry="10.45"/><ellipse cx="1294" cy="919" rx="4.8" ry="10.45"/>
<ellipse cx="1300" cy="605" rx="4.8" ry="10.45"/><ellipse cx="1307" cy="371" rx="4.8" ry="10.45"/><ellipse cx="1314" cy="655" rx="4.8" ry="10.45"/><ellipse cx="1320" cy="796" rx="4.8" ry="10.45"/><ellipse cx="1327" cy="876" rx="4.8" ry="10.45"/><ellipse cx="1333" cy="901" rx="4.8" ry="10.45"/><ellipse cx="1340" cy="663" rx="4.8" ry="10.45"/><ellipse cx="1347" cy="873" rx="4.8" ry="10.45"/><ellipse cx="1353" cy="797" rx="4.8" ry="10.45"/><ellipse cx="1360" cy="756" rx="4.8" ry="10.45"/>
<ellipse cx="1367" cy="831" rx="4.8" ry="10.45"/><ellipse cx="1373" cy="710" rx="4.8" ry="10.45"/><ellipse cx="1380" cy="920" rx="4.8" ry="10.45"/><ellipse cx="1387" cy="791" rx="4.8" ry="10.45"/><ellipse cx="1393" cy="692" rx="4.8" ry="10.45"/><ellipse cx="1400" cy="735" rx="4.8" ry="10.45"/><ellipse cx="1406" cy="696" rx="4.8" ry="10.45"/><ellipse cx="1413" cy="945" rx="4.8" ry="10.45"/><ellipse cx="1420" cy="1013" rx="4.8" ry="10.45"/><ellipse cx="1426" cy="1089" rx="4.8" ry="10.45"/>
<ellipse cx="1433" cy="1086" rx="4.8" ry="10.45"/><ellipse cx="1440" cy="1083" rx="4.8" ry="10.45"/><ellipse cx="1446" cy="921" rx="4.8" ry="10.45"/><ellipse cx="1453" cy="957" rx="4.8" ry="10.45"/><ellipse cx="1460" cy="1195" rx="4.8" ry="10.45"/><ellipse cx="1480" cy="991" rx="4.8" ry="10.45"/>
<polyline fill="none" stroke="#ff0000" stroke-width="8" stroke-linejoin="round" vector-effect="non-scaling-stroke" points="205,725 250,704 300,680 340,661 383,641 430,619 480,598 515,585 550,574 575,568 600,563 625,560 650,559 675,560 700,563 730,568 760,576 790,587 820,600 850,617 880,635 910,656 940,677 970,698 1000,718 1030,737 1060,755 1090,772 1120,787 1150,800 1180,812 1210,822 1240,830 1270,836 1300,840 1325,842 1350,843 1375,841 1400,838 1420,836 1440,833 1460,830 1480,826"/>
</g>

<rect x="226.7" y="1750.8" width="1656.8" height="638.2" fill="none" stroke="#000" stroke-width="5"/>
<path stroke="#000" stroke-width="2" fill="none" d="
M207.3,1825.7H227 M207.3,1960.7H227 M207.3,2095.7H227 M207.3,2230.7H227 M207.3,2365.7H227
M1883,1825.7H1903 M1883,1960.7H1903 M1883,2095.7H1903 M1883,2230.7H1903 M1883,2365.7H1903
M432,1732V1752 M735,1740V1752 M1038,1740V1752 M1341,1740V1752 M1644,1740V1752
M432,2388V2408 M735,2388V2400 M1038,2388V2400 M1341,2388V2400 M1644,2388V2400"/>
<g font-size="41" font-weight="bold" text-anchor="end">
<text x="190" y="1840.7">10</text>
<text x="190" y="1975.7">5</text>
<text x="190" y="2110.7">0</text>
<text x="190" y="2245.7">−5</text>
<text x="190" y="2380.7">−10</text>
</g>
<text x="432" y="2455.5" font-size="41" font-weight="bold" text-anchor="middle">2025.5</text>
<text x="1816" y="1790" font-size="34" font-weight="bold" text-anchor="end" textLength="356" lengthAdjust="spacingAndGlyphs">-3.418+/- 3.406 mm/yr</text>
<text transform="translate(90.5,2069.9) rotate(-90)" text-anchor="middle" font-size="42">Up (mm)</text>

<!-- X axis label -->
<text x="1055" y="2514" text-anchor="middle" font-size="42">Time (year)</text>

<!-- Bottom info box -->
<rect x="226.7" y="2618" width="1656.8" height="153.5" fill="none" stroke="#000" stroke-width="5"/>
<g font-size="41" font-weight="bold" text-anchor="middle">
<text x="1055" y="2666" textLength="1206" lengthAdjust="spacingAndGlyphs">24 Hour Positions Using Final Orbits (blue) and Rapid Orbits (magenta).</text>
<text x="1055.5" y="2708" textLength="792" lengthAdjust="spacingAndGlyphs">Processed by the Nevada Geodetic Laboratory.</text>
<text x="1055.3" y="2749" textLength="837" lengthAdjust="spacingAndGlyphs">Plotted on 2026-Jan-11. Last data on 2025-Dec-20.</text>
</g>
</svg>
</body>
</html>
